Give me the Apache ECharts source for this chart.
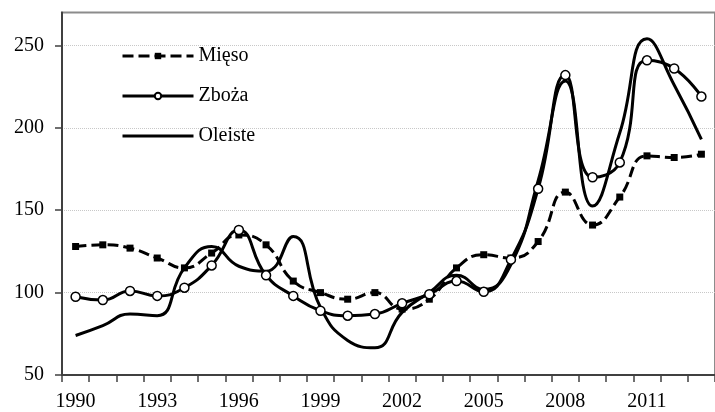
<!DOCTYPE html>
<html>
<head>
<meta charset="utf-8">
<script src="https://cdn.jsdelivr.net/npm/echarts@6/dist/echarts.min.js"></script>
<style>
  html, body { margin: 0; padding: 0; background: #fff; }
  #chart { width: 715px; height: 412px; }
</style>
</head>
<body>
<div id="chart"></div>
<script>
// years on the category axis
const years = [
  "1990", "1991", "1992", "1993", "1994", "1995", "1996", "1997",
  "1998", "1999", "2000", "2001", "2002", "2003", "2004", "2005",
  "2006", "2007", "2008", "2009", "2010", "2011", "2012", "2013"
];
const yTicks = [50, 100, 150, 200, 250];

const mieso = [128, 129, 127, 121, 115, 124, 135, 129, 107, 100, 96, 100,
  90, 96, 115, 123, 121, 131, 161, 141, 158, 183, 182, 184];
const zboza = [97.5, 95.5, 101, 98, 103, 116.5, 138, 110.5, 98, 89, 86, 87,
  93.5, 99, 107, 100.5, 120, 163, 232, 170, 179, 241, 236, 219];
const oleiste = [74, 80, 87, 86, 115, 128, 116, 113, 134, 91, 71, 66.5,
  88, 100, 110.5, 102, 117, 168, 228.5, 152.5, 197, 254, 226, 193];

const font = "'Liberation Serif', 'DejaVu Serif', serif";
const chart = echarts.init(document.getElementById("chart"));

chart.setOption({
  animation: false,
  textStyle: { fontFamily: font },
  grid: {
    left: 62,
    top: 12.5,
    bottom: 33,
    right: -11,
    show: true,
    borderColor: "#8c8c8c",
    borderWidth: 2,
  },
  legend: {
    orient: "vertical",
    left: 121,
    top: 46,
    padding: 0,
    itemWidth: 71,
    itemHeight: 8,
    itemGap: 20,
    textStyle: { fontFamily: font, fontSize: 20, color: "#000" },
    data: [
      { name: "Mięso", lineStyle: { width: 3, type: [11, 5], color: "#000" } },
      { name: "Zboża", lineStyle: { width: 3, color: "#000" } },
      { name: "Oleiste", lineStyle: { width: 3, color: "#000" }, itemStyle: { opacity: 0 } },
    ],
  },
  xAxis: {
    type: "category",
    data: years,
    boundaryGap: true,
    axisLine: { lineStyle: { color: "#404040", width: 2 } },
    axisTick: {
      show: true,
      interval: 0,
      alignWithLabel: false,
      length: 7,
      lineStyle: { color: "#404040", width: 1.5 },
    },
    axisLabel: {
      interval: 2,
      margin: 17,
      fontFamily: font,
      fontSize: 20,
      color: "#000",
    },
    splitLine: { show: false },
  },
  yAxis: {
    type: "value",
    min: 50,
    max: 270,
    interval: 50,
    axisLine: { show: true, lineStyle: { color: "#404040", width: 2 } },
    axisTick: {
      show: true,
      length: 7,
      customValues: yTicks,
      lineStyle: { color: "#404040", width: 1.5 },
    },
    axisLabel: {
      margin: 18,
      customValues: yTicks,
      fontFamily: font,
      fontSize: 20,
      color: "#000",
    },
    splitLine: { lineStyle: { color: "#c8c8c8", type: "dotted", width: 1 } },
  },
  series: [
    {
      name: "Mięso",
      type: "line",
      data: mieso,
      smooth: 0.5,
      symbol: "rect",
      symbolSize: 7,
      showAllSymbol: true,
      lineStyle: { color: "#000", width: 3, type: [11, 5] },
      itemStyle: { color: "#000" },
    },
    {
      name: "Zboża",
      type: "line",
      data: zboza,
      smooth: 0.5,
      symbol: "circle",
      symbolSize: 9,
      showAllSymbol: true,
      lineStyle: { color: "#000", width: 3 },
      itemStyle: { color: "#fff", borderColor: "#000", borderWidth: 1.5 },
    },
    {
      name: "Oleiste",
      type: "line",
      data: oleiste,
      smooth: 0.5,
      symbol: "none",
      lineStyle: { color: "#000", width: 3 },
      itemStyle: { color: "#000" },
    },
  ],
});
</script>
</body>
</html>
